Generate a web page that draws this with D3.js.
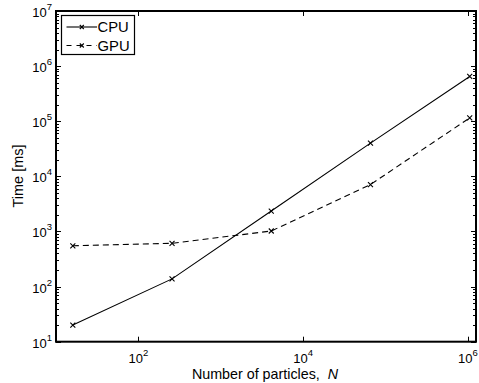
<!DOCTYPE html>
<html><head><meta charset="utf-8">
<script src="https://cdn.jsdelivr.net/npm/d3@7"></script>
<style>body{margin:0;background:#fff}svg{display:block}text{font-family:"Liberation Sans",Arial,sans-serif}</style>
</head><body><svg id="c" width="479" height="383"></svg>
<script>
const particles = [16, 256, 4096, 65536, 1048576];
const cpuTime = [20, 138, 2350, 40000, 650000];
const gpuTime = [550, 610, 1020, 7100, 115000];
const xTickValues = [1e2, 1e4, 1e6];
const xTickExps = ["2", "4", "6"];
const yTickValues = [1e1, 1e2, 1e3, 1e4, 1e5, 1e6, 1e7];
const yTickExps = ["1", "2", "3", "4", "5", "6", "7"];
const seriesNames = ["CPU", "GPU"];

const svg = d3.select("#c");
const L = 56, R = 476, T = 11, B = 341.7;
const x = d3.scaleLog().domain([10, Math.pow(10, 6.097)]).range([L, R]);
const y = d3.scaleLog().domain([1e1, 1e7]).range([B, T]);

const g = svg.append("g");
const minor = [];
for (let e = 1; e < 7; e++) for (let m = 2; m <= 9; m++) minor.push(m * Math.pow(10, e));
const tickG = g.append("g").attr("stroke", "#000").attr("stroke-width", 1);
minor.forEach(v => {
  const yy = Math.round(y(v)) + 0.5;
  tickG.append("line").attr("x1", L).attr("x2", L + 3).attr("y1", yy).attr("y2", yy);
  tickG.append("line").attr("x1", R).attr("x2", R - 3).attr("y1", yy).attr("y2", yy);
});
yTickValues.forEach(v => {
  const yy = Math.round(y(v)) + 0.5;
  tickG.append("line").attr("x1", L).attr("x2", L + 5).attr("y1", yy).attr("y2", yy);
  tickG.append("line").attr("x1", R).attr("x2", R - 5).attr("y1", yy).attr("y2", yy);
});
xTickValues.forEach(v => {
  const xx = Math.round(x(v)) + 0.5;
  tickG.append("line").attr("x1", xx).attr("x2", xx).attr("y1", B).attr("y2", B - 5);
  tickG.append("line").attr("x1", xx).attr("x2", xx).attr("y1", T).attr("y2", T + 5);
});

yTickValues.forEach((v, i) => {
  const t = g.append("text").attr("x", 52).attr("y", y(v) + 6).attr("text-anchor", "end").attr("font-size", 13);
  t.append("tspan").text("10");
  t.append("tspan").attr("dy", -7).attr("font-size", 9.5).text(yTickExps[i]);
});
xTickValues.forEach((v, i) => {
  const t = g.append("text").attr("x", Math.min(x(v), 468)).attr("y", 363).attr("text-anchor", "middle").attr("font-size", 13);
  t.append("tspan").text("10");
  t.append("tspan").attr("dy", -7).attr("font-size", 9.5).text(xTickExps[i]);
});

const xl = g.append("text").attr("x", 265).attr("y", 379).attr("text-anchor", "middle").attr("font-size", 14.3);
xl.append("tspan").text("Number of particles,\u00a0\u00a0");
xl.append("tspan").attr("font-style", "italic").text("N");
g.append("text").attr("transform", "translate(23,176) rotate(-90)").attr("text-anchor", "middle").attr("font-size", 14.5).text("Time [ms]");

const line = d3.line().x(d => x(d[0])).y(d => y(d[1]));
const series = [
  {name: seriesNames[0], vals: cpuTime, dash: null},
  {name: seriesNames[1], vals: gpuTime, dash: "6,4"}
];
series.forEach(s => {
  const pts = particles.map((p, i) => [p, s.vals[i]]);
  g.append("path").attr("d", line(pts)).attr("fill", "none").attr("stroke", "#000").attr("stroke-width", 1.1)
    .attr("stroke-dasharray", s.dash);
  pts.forEach(p => {
    const cx = x(p[0]), cy = y(p[1]), r = 2.5;
    g.append("path").attr("d", `M${cx-r},${cy-r}L${cx+r},${cy+r}M${cx-r},${cy+r}L${cx+r},${cy-r}`)
      .attr("stroke", "#000").attr("stroke-width", 1.1);
  });
});

g.append("rect").attr("x", L).attr("y", T).attr("width", R - L).attr("height", B - T)
  .attr("fill", "none").attr("stroke", "#000").attr("stroke-width", 2);

const lg = g.append("g");
lg.append("rect").attr("x", 61.5).attr("y", 15.5).attr("width", 73).attr("height", 39)
  .attr("fill", "#fff").attr("stroke", "#000").attr("stroke-width", 1.2);
series.forEach((s, i) => {
  const yy = 27 + i * 18.5;
  lg.append("line").attr("x1", 66.5).attr("x2", 97).attr("y1", yy).attr("y2", yy)
    .attr("stroke", "#000").attr("stroke-width", 1.1).attr("stroke-dasharray", s.dash ? "5,5" : null);
  const cx = 81.8, r = 2;
  lg.append("path").attr("d", `M${cx-r},${yy-r}L${cx+r},${yy+r}M${cx-r},${yy+r}L${cx+r},${yy-r}`)
    .attr("stroke", "#000").attr("stroke-width", 1.1);
  lg.append("text").attr("x", 97.5).attr("y", yy + 5.3).attr("font-size", 14.8).text(s.name);
});
</script></body></html>
